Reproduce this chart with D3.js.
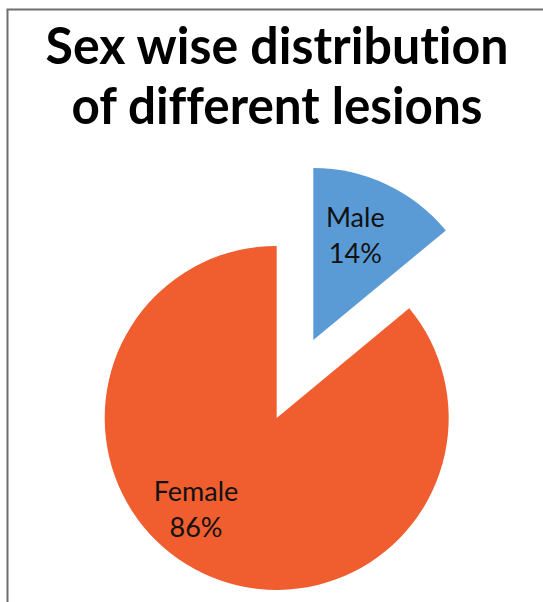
<!DOCTYPE html>
<html>
<head>
<meta charset="utf-8">
<script src="https://cdn.jsdelivr.net/npm/d3@7"></script>
<style>
  html, body { margin: 0; padding: 0; background: #fff; }
  svg { display: block; }
  text { font-variant-ligatures: none; font-feature-settings: "liga" 0, "clig" 0; }
</style>
</head>
<body>
<svg id="chart" width="543" height="602"></svg>
<script>
// ---- data ----
const categories = ["Male", "Female"];
const values = [14, 86];
const percentLabels = ["14%", "86%"];
const colors = ["#5B9BD5", "#F05D2E"];
const titleLines = ["Sex wise distribution", "of different lesions"];

// ---- layout ----
const W = 543, H = 602;
const svg = d3.select("#chart");

// frame (left and top border)
svg.append("path")
  .attr("d", `M7.5,${H} V9.5 H${W}`)
  .attr("fill", "none")
  .attr("stroke", "#6e6e6e")
  .attr("stroke-width", 2);

// title
const titleSpec = [{y: 64, len: 463}, {y: 124, len: 411}];
svg.append("g").selectAll("text")
  .data(titleLines)
  .join("text")
  .attr("x", 277)
  .attr("y", (d, i) => titleSpec[i].y)
  .attr("text-anchor", "middle")
  .attr("font-family", "Lato, 'Open Sans', sans-serif")
  .attr("font-weight", "bold")
  .attr("font-size", 52)
  .attr("textLength", (d, i) => titleSpec[i].len)
  .attr("lengthAdjust", "spacingAndGlyphs")
  .attr("fill", "#000")
  .text(d => d);

// pie
const cx = 295, cy = 379, r = 172, explode = 43;
const pie = d3.pie().sort(null).value(d => d.value);
const arcs = pie(categories.map((c, i) => ({name: c, value: values[i], pct: percentLabels[i], color: colors[i]})));
const arc = d3.arc().innerRadius(0).outerRadius(r);

// label placement (radius fraction & angle tweak per slice, Excel-like best fit)
const labelPos = [{rf: 0.641, da: -0.049}, {rf: 0.72, da: 0.27}];

const g = svg.append("g").attr("transform", `translate(${cx},${cy})`);
const slices = g.selectAll("g.slice")
  .data(arcs)
  .join("g")
  .attr("class", "slice")
  .attr("transform", d => {
    const a = (d.startAngle + d.endAngle) / 2;
    return `translate(${explode * Math.sin(a)},${-explode * Math.cos(a)})`;
  });

slices.append("path")
  .attr("d", arc)
  .attr("fill", d => d.data.color);

slices.each(function(d, i) {
  const a = (d.startAngle + d.endAngle) / 2 + labelPos[i].da;
  const rr = r * labelPos[i].rf;
  const lx = rr * Math.sin(a), ly = -rr * Math.cos(a);
  const t = d3.select(this).append("text")
    .attr("text-anchor", "middle")
    .attr("font-family", "Lato, 'Open Sans', sans-serif")
    .attr("font-size", 27)
    .attr("fill", "#111");
  t.append("tspan").attr("x", lx).attr("y", ly - 11).text(d.data.name);
  t.append("tspan").attr("x", lx).attr("y", ly + 25).text(d.data.pct);
});
</script>
</body>
</html>
